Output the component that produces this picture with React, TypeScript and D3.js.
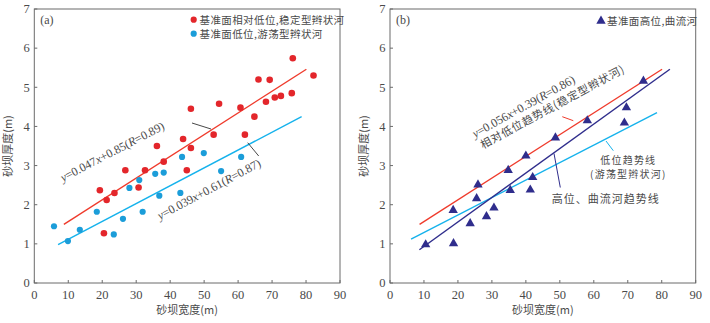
import React from "react";
import * as d3 from "d3";

const width = 710;
const height = 323;

// panel (a): base level relatively low (stable braided) - red
const redWidth = [19.3, 20.5, 21.3, 23.6, 26.8, 30.7, 32.6, 36.1, 38.1, 43.8, 44.9, 46.1, 46.1, 52.8, 54.4, 60.7, 62.0, 64.8, 66.0, 68.2, 69.3, 70.8, 72.6, 75.8, 76.1, 82.2];
const redThick = [2.37, 1.27, 2.12, 2.30, 2.88, 2.44, 2.88, 3.50, 3.10, 3.68, 2.88, 4.45, 3.45, 3.79, 4.58, 4.48, 3.79, 4.25, 5.20, 4.63, 5.19, 4.74, 4.78, 4.85, 5.74, 5.30];

// panel (a): base level low (wandering braided) - blue
const blueWidth = [5.8, 9.9, 13.4, 18.4, 23.4, 26.1, 28.0, 30.9, 31.9, 35.6, 36.8, 38.1, 43.0, 43.5, 49.9, 55.0, 60.9];
const blueThick = [1.45, 1.07, 1.36, 1.82, 1.24, 1.64, 2.43, 2.63, 1.82, 2.79, 2.23, 2.82, 2.30, 3.22, 3.32, 2.86, 3.22];

// panel (b): base level high (meandering) - navy triangles
const navyWidth = [10.5, 18.7, 18.6, 23.6, 25.5, 25.9, 28.4, 30.6, 34.8, 35.4, 40.0, 41.3, 42.0, 48.7, 58.1, 69.6, 69.0, 74.6];
const navyThick = [0.98, 1.01, 1.86, 1.52, 2.16, 2.51, 1.70, 1.92, 2.88, 2.37, 3.25, 2.38, 2.70, 3.71, 4.15, 4.48, 4.09, 5.16];

// trend lines as drawn (end points, data units)
const redTrend = [[8.7, 1.5], [80.1, 5.46]];
const blueTrendA = [[7.0, 0.98], [78.7, 4.25]];
const blueTrendB = [[6.2, 1.12], [78.6, 4.35]];
const navyTrend = [[8.65, 0.85], [82.4, 5.46]];

const xTicks = [0, 10, 20, 30, 40, 50, 60, 70, 80, 90];
const yTicks = [0, 1, 2, 3, 4, 5, 6, 7];

const RED = "#e3262b";
const REDLINE = "#ef3b2c";
const BLUE = "#1b9dd9";
const CYAN = "#15b2ec";
const NAVY = "#2f2d8c";
const FRAME = "#6b6b6b";
const TXT = "#4a4a4a";

const serif = "'Liberation Serif', 'Times New Roman', serif";
const cjk = "'Noto Sans CJK SC', 'Liberation Serif', serif";

const y = d3.scaleLinear().domain([0, 7]).range([283, 9]);
const xa = d3.scaleLinear().domain([0, 90]).range([34.3, 340]);
const xb = d3.scaleLinear().domain([0, 90]).range([390, 695.7]);

const lineGen = (x: d3.ScaleLinear<number, number>) =>
  d3.line<number[]>().x(d => x(d[0])).y(d => y(d[1]));

function Frame({ x, label }: { x: d3.ScaleLinear<number, number>; label: string }) {
  const [x0, x1] = x.range();
  const [y0, y1] = y.range();
  return (
    <g>
      <rect x={x0} y={y1} width={x1 - x0} height={y0 - y1} fill="none" stroke={FRAME} strokeWidth={1} />
      {xTicks.map(t => (
        <g key={"x" + t}>
          <line x1={x(t)} x2={x(t)} y1={y0} y2={y0 - 3} stroke={FRAME} />
          <text x={x(t)} y={y0 + 15.5} textAnchor="middle" fontFamily={serif} fontSize={12.5} fill={TXT}>{t}</text>
        </g>
      ))}
      {yTicks.map(t => (
        <g key={"y" + t}>
          <line x1={x0} x2={x0 + 3} y1={y(t)} y2={y(t)} stroke={FRAME} />
          <text x={x0 - 4.5} y={y(t) + 4.3} textAnchor="end" fontFamily={serif} fontSize={12.5} fill={TXT}>{t}</text>
        </g>
      ))}
      <text x={x0 + 6} y={y1 + 15} fontFamily={serif} fontSize={12} fill={TXT}>{label}</text>
      <text x={(x0 + x1) / 2} y={314} textAnchor="middle" fontFamily={cjk} fontSize={11} fill={TXT}>砂坝宽度(m)</text>
      <text transform={`translate(${x0 - 22},${(y0 + y1) / 2}) rotate(-90)`} textAnchor="middle" fontFamily={cjk} fontSize={11} fill={TXT}>砂坝厚度(m)</text>
    </g>
  );
}

function Eq({ x, y: yy, angle, a, b, r }: { x: number; y: number; angle: number; a: string; b: string; r: string }) {
  return (
    <text transform={`translate(${x},${yy}) rotate(${angle})`} fontFamily={serif} fontSize={12} fill={TXT}>
      <tspan fontStyle="italic">y</tspan>={a}<tspan fontStyle="italic">x</tspan>+{b}(<tspan fontStyle="italic">R</tspan>={r})
    </text>
  );
}

export default function App() {
  const tri = d3.symbol().type(d3.symbolTriangle).size(38)() as string;
  const la = lineGen(xa);
  const lb = lineGen(xb);
  return (
    <svg width={width} height={height} style={{ position: "absolute", left: 0, top: 0, background: "#fff" }}>
      <rect width={width} height={height} fill="#fff" />
      {/* panel a */}
      <Frame x={xa} label="(a)" />
      <path d={la(redTrend) as string} stroke={REDLINE} strokeWidth={1.4} fill="none" />
      <path d={la(blueTrendA) as string} stroke={CYAN} strokeWidth={1.4} fill="none" />
      {redWidth.map((v, i) => (
        <circle key={"r" + i} cx={xa(v)} cy={y(redThick[i])} r={3.3} fill={RED} />
      ))}
      {blueWidth.map((v, i) => (
        <circle key={"b" + i} cx={xa(v)} cy={y(blueThick[i])} r={3.1} fill={BLUE} />
      ))}
      <Eq x={63} y={182} angle={-27.5} a="0.047" b="0.85" r="0.89" />
      <line x1={192} y1={123} x2={211} y2={129} stroke="#333" strokeWidth={0.9} />
      <Eq x={160} y={220} angle={-28} a="0.039" b="0.61" r="0.87" />
      <line x1={247.7} y1={142.7} x2={258.7} y2={156} stroke="#333" strokeWidth={0.9} />
      <circle cx={193.7} cy={19.7} r={3.1} fill={RED} />
      <text x={199.5} y={23.6} fontFamily={cjk} fontSize={10.5} letterSpacing={0.4} fill={TXT}>基准面相对低位,稳定型辫状河</text>
      <circle cx={193.7} cy={33.7} r={3.1} fill={BLUE} />
      <text x={199.5} y={37.6} fontFamily={cjk} fontSize={10.5} letterSpacing={0.4} fill={TXT}>基准面低位,游荡型辫状河</text>

      {/* panel b */}
      <Frame x={xb} label="(b)" />
      <path d={lb(redTrend) as string} stroke={REDLINE} strokeWidth={1.4} fill="none" />
      <path d={lb(blueTrendB) as string} stroke={CYAN} strokeWidth={1.4} fill="none" />
      <path d={lb(navyTrend) as string} stroke={NAVY} strokeWidth={1.4} fill="none" />
      {navyWidth.map((v, i) => (
        <path key={"n" + i} d={tri} transform={`translate(${xb(v)},${y(navyThick[i])})`} fill={NAVY} />
      ))}
      <Eq x={475} y={138} angle={-29} a="0.056" b="0.39" r="0.86" />
      <text transform={`translate(483,149) rotate(-28.5)`} fontFamily={cjk} fontSize={11} letterSpacing={0.8} fill={TXT}>相对低位趋势线(稳定型辫状河)</text>
      <line x1={562.3} y1={116.7} x2={573.3} y2={120.7} stroke={REDLINE} strokeWidth={1} />
      <line x1={606} y1={141} x2={613.3} y2={150.7} stroke={CYAN} strokeWidth={1} />
      <text x={628.3} y={164} textAnchor="middle" fontFamily={cjk} fontSize={10} letterSpacing={1.2} fill={TXT}>低位趋势线</text>
      <text x={628.3} y={177.5} textAnchor="middle" fontFamily={cjk} fontSize={10} letterSpacing={1.2} fill={TXT}>(游荡型辫状河)</text>
      <line x1={554} y1={153.5} x2={560.3} y2={187.5} stroke={NAVY} strokeWidth={1} />
      <text x={605.7} y={202.5} textAnchor="middle" fontFamily={cjk} fontSize={11} letterSpacing={1} fill={TXT}>高位、曲流河趋势线</text>
      <path d={tri} transform={`translate(601,21)`} fill={NAVY} />
      <text x={607} y={25} fontFamily={cjk} fontSize={10.5} letterSpacing={0.4} fill={TXT}>基准面高位,曲流河</text>
    </svg>
  );
}
